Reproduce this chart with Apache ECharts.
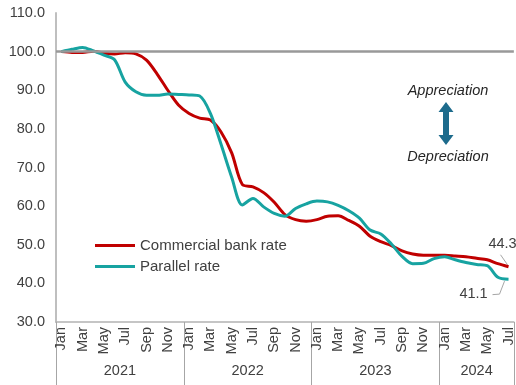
<!DOCTYPE html>
<html>
<head>
<meta charset="utf-8">
<script src="https://cdn.jsdelivr.net/npm/echarts@6/dist/echarts.min.js"></script>
<style>
  html, body { margin: 0; padding: 0; background: #fff; }
  #chart { width: 516px; height: 385px; }
</style>
</head>
<body>
<div id="chart"></div>
<script>
// Monthly exchange-rate indices, January 2021 = 100
const years = ['2021', '2022', '2023', '2024'];
const monthNames = ['Jan','Feb','Mar','Apr','May','Jun','Jul','Aug','Sep','Oct','Nov','Dec'];
const monthsPerYear = [12, 12, 12, 7];

const commercialBankRate = [
  100.0, 99.8, 99.8, 100.1, 99.6, 99.4, 99.7, 99.4, 97.8, 94.2, 90.0, 86.2,
  84.0, 82.8, 82.3, 79.2, 73.8, 65.6, 65.0, 63.5, 61.0, 57.8, 56.5, 56.1,
  56.5, 57.4, 57.5, 56.3, 54.8, 52.2, 50.8, 49.8, 48.4, 47.6, 47.3, 47.3,
  47.3, 47.1, 46.9, 46.5, 46.1, 45.1, 44.3
];
const parallelRate = [
  100.0, 100.6, 101.1, 100.2, 99.1, 97.9, 92.1, 89.6, 88.7, 88.7, 89.0, 88.9,
  88.8, 88.5, 84.0, 76.0, 67.5, 60.3, 62.0, 59.8, 58.1, 57.4, 59.4, 60.6,
  61.3, 61.1, 60.2, 58.8, 56.9, 53.8, 52.8, 50.2, 47.0, 45.1, 45.2, 46.4,
  46.9, 46.1, 45.4, 44.9, 44.6, 41.6, 41.1
];
const yTicks = { min: 30, max: 110, step: 10 };

// Month labels and the year each month belongs to
const monthLabels = [];
const monthYear = [];
years.forEach((y, yi) => {
  for (let m = 0; m < monthsPerYear[yi]; m++) {
    monthLabels.push(monthNames[m]);
    monthYear.push(y);
  }
});

const FONT = '"Liberation Sans", Arial, sans-serif';
const TXT = '#404040';
const LEADER = '#a6a6a6';

// Only the latest observation carries a value label
function withEndLabel(values, position) {
  return values.map((v, i) => {
    if (i !== values.length - 1) return v;
    return {
      value: v,
      label: {
        show: true,
        formatter: (p) => p.value.toFixed(1),
        fontFamily: FONT, fontSize: 14.5, color: TXT,
        position: position
      }
    };
  });
}

const chart = echarts.init(document.getElementById('chart'), null, { renderer: 'canvas' });

chart.setOption({
  animation: false,
  backgroundColor: '#ffffff',
  grid: { left: 56, right: 0, top: 13, bottom: 63, containLabel: false },
  legend: {
    orient: 'vertical',
    left: 90, top: 233,
    itemWidth: 40, itemHeight: 3, itemGap: 6,
    icon: 'rect',
    textStyle: { fontFamily: FONT, fontSize: 15, color: TXT },
    data: ['Commercial bank rate', 'Parallel rate']
  },
  xAxis: {
    type: 'category',
    data: monthLabels,
    boundaryGap: true,
    axisLine: { show: true, lineStyle: { color: '#b3b3b3', width: 1.5 } },
    axisTick: {
      show: true,
      length: 63,
      interval: (i) => monthYear[i] !== monthYear[i - 1],
      lineStyle: { color: '#a6a6a6', width: 1 }
    },
    axisLabel: {
      interval: 1, rotate: 90, margin: 5,
      fontFamily: FONT, fontSize: 14.5, color: TXT
    },
    splitLine: { show: false }
  },
  yAxis: {
    type: 'value',
    min: yTicks.min, max: yTicks.max, interval: yTicks.step,
    axisLine: { show: true, lineStyle: { color: '#bfbfbf', width: 2 } },
    axisTick: { show: false },
    splitLine: { show: false },
    axisLabel: {
      margin: 11,
      formatter: (v) => v.toFixed(1),
      fontFamily: FONT, fontSize: 14.5, color: TXT
    }
  },
  series: [
    {
      name: 'Commercial bank rate',
      type: 'line',
      data: withEndLabel(commercialBankRate, 'top'),
      smooth: 0.3,
      showSymbol: true,
      symbol: 'circle',
      symbolSize: 0,
      color: '#c00000',
      lineStyle: { color: '#c00000', width: 3 },
      labelLayout: { dx: -6, dy: -10 },
      markLine: {
        silent: true, symbol: 'none',
        label: { show: false },
        lineStyle: { color: '#999999', width: 2.5, type: 'solid' },
        data: [{ yAxis: 100 }]
      },
      z: 2
    },
    {
      name: 'Parallel rate',
      type: 'line',
      data: withEndLabel(parallelRate, 'bottom'),
      smooth: 0.3,
      showSymbol: true,
      symbol: 'circle',
      symbolSize: 0,
      color: '#17a3a1',
      lineStyle: { color: '#17a3a1', width: 3 },
      labelLayout: { dx: -35, dy: 2 },
      z: 3
    }
  ],
  graphic: [
    {
      id: 'title', type: 'text', left: 'center', top: -17,
      style: {
        text: '(January 2021 = 100)', fill: '#1a1a1a',
        font: 'bold 17px ' + FONT
      }
    },
    {
      id: 'appreciation', type: 'text', x: 448, y: 91,
      style: {
        text: 'Appreciation', fill: '#262626', align: 'center', verticalAlign: 'middle',
        font: 'italic 14.5px ' + FONT
      }
    },
    {
      id: 'depreciation', type: 'text', x: 448, y: 157,
      style: {
        text: 'Depreciation', fill: '#262626', align: 'center', verticalAlign: 'middle',
        font: 'italic 14.5px ' + FONT
      }
    },
    {
      id: 'arrow', type: 'polygon',
      shape: {
        points: [
          [446, 102], [453.5, 112], [449, 112], [449, 135],
          [453.5, 135], [446, 145], [438.5, 135], [443, 135],
          [443, 112], [438.5, 112]
        ]
      },
      style: { fill: '#1d6b8c' }
    }
  ]
});

// Year captions centred under each year's span of months
const extraGraphics = [];
let start = 0;
years.forEach((y, yi) => {
  const end = start + monthsPerYear[yi] - 1;
  const x0 = chart.convertToPixel({ xAxisIndex: 0 }, start);
  const x1 = chart.convertToPixel({ xAxisIndex: 0 }, end);
  extraGraphics.push({
    id: 'year-' + y, type: 'text', x: (x0 + x1) / 2, y: 371,
    style: {
      text: y, fill: TXT, align: 'center', verticalAlign: 'middle',
      font: '14.5px ' + FONT
    }
  });
  start = end + 1;
});

// Leader lines from the end-value labels to the latest points
const last = monthLabels.length - 1;
const pRed = chart.convertToPixel({ seriesIndex: 0 }, [last, commercialBankRate[last]]);
const pTeal = chart.convertToPixel({ seriesIndex: 1 }, [last, parallelRate[last]]);
extraGraphics.push({
  id: 'leader-bank', type: 'polyline', silent: true,
  shape: { points: [[pRed[0] - 8, pRed[1] - 12], [pRed[0] - 1, pRed[1] - 2]] },
  style: { stroke: LEADER, lineWidth: 1, fill: null }
});
extraGraphics.push({
  id: 'leader-parallel', type: 'polyline', silent: true,
  shape: { points: [[pTeal[0] - 16, pTeal[1] + 15.5], [pTeal[0] - 9, pTeal[1] + 15], [pTeal[0] - 4, pTeal[1] + 2]] },
  style: { stroke: LEADER, lineWidth: 1, fill: null }
});
chart.setOption({ graphic: extraGraphics });
</script>
</body>
</html>
